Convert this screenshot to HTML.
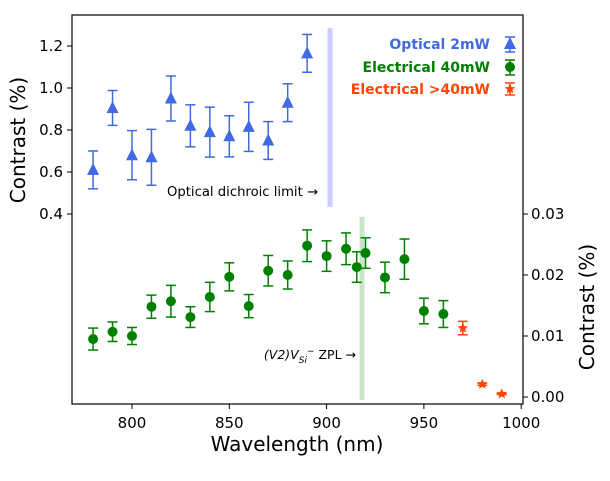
<!DOCTYPE html>
<html><head><meta charset="utf-8"><style>
body{margin:0;background:#fff}
svg text{font-family:"DejaVu Sans","Liberation Sans",sans-serif}
</style></head><body>
<svg id="c" width="610" height="476" xmlns="http://www.w3.org/2000/svg">
<rect x="72" y="15" width="451" height="389" fill="#fff" stroke="#000" stroke-width="1.2"/>
<rect x="327.5" y="28" width="5" height="179" fill="#ccccff"/>
<rect x="359.5" y="217" width="5" height="183" fill="#c8e6c8"/>
<text x="318" y="196" font-size="13.2" text-anchor="end" fill="#000">Optical dichroic limit →</text>
<text x="356" y="359" font-size="12.5" text-anchor="end" fill="#000"><tspan font-style="italic">(V2)V</tspan><tspan font-style="italic" font-size="9" dy="4">Si</tspan><tspan font-size="9" dy="-9">−</tspan><tspan dy="5"> ZPL →</tspan></text>
<g id="axes"></g>
<g id="marks"></g>
<g>
<text x="490" y="49" font-size="14" font-weight="bold" fill="#4169e1" text-anchor="end">Optical 2mW</text>
<text x="490" y="72" font-size="14" font-weight="bold" fill="#008000" text-anchor="end">Electrical 40mW</text>
<text x="490" y="94" font-size="14" font-weight="bold" fill="#ff4500" text-anchor="end">Electrical &gt;40mW</text>
</g>
<text x="297" y="451" font-size="20" text-anchor="middle">Wavelength (nm)</text>
<text transform="translate(25,140) rotate(-90)" font-size="20" text-anchor="middle">Contrast (%)</text>
<text transform="translate(594,307) rotate(-90)" font-size="20" text-anchor="middle">Contrast (%)</text>
</svg>
<script>
const optX=[780,790,800,810,820,830,840,850,860,870,880,890];
const optY=[0.61,0.905,0.68,0.67,0.95,0.82,0.79,0.77,0.815,0.75,0.93,1.165];
const optE=[0.09,0.083,0.117,0.133,0.107,0.1,0.119,0.098,0.117,0.09,0.09,0.09];
const elX=[780,790,800,810,820,830,840,850,860,870,880,890,900,910,915.5,920,930,940,950,960];
const elY=[0.0095,0.0107,0.0100,0.0148,0.0157,0.0131,0.0164,0.0197,0.0149,0.0207,0.0200,0.0248,0.0231,0.0243,0.0213,0.0236,0.0196,0.0226,0.0141,0.0136];
const elE=[0.0018,0.0016,0.0014,0.0019,0.0026,0.0017,0.0024,0.0023,0.0019,0.0025,0.0023,0.0026,0.0025,0.0026,0.0025,0.0025,0.0025,0.0033,0.0021,0.0022];
const hiX=[970,980,990];
const hiY=[0.0113,0.0021,0.0005];
const hiE=[0.0011,0.0002,0.0001];
const xTicks=[800,850,900,950,1000];
const yLTicks=[0.4,0.6,0.8,1.0,1.2];
const yRTicks=[0,0.01,0.02,0.03];
const X=v=>132+(v-800)*1.946;
const YL=v=>214-(v-0.4)*210;
const YR=v=>397-v*6100;
const NS='http://www.w3.org/2000/svg';
function mk(t,a,p){const e=document.createElementNS(NS,t);for(const k in a)e.setAttribute(k,a[k]);p.appendChild(e);return e;}
const ax=document.getElementById('axes'),mg=document.getElementById('marks');
xTicks.forEach(t=>{const g=mk('g',{},ax);


mk('line',{x1:X(t),x2:X(t),y1:404,y2:409,stroke:'#000'},g);
const tx=mk('text',{x:X(t),y:428,'font-size':15,'text-anchor':'middle'},g);tx.textContent=t;});
yLTicks.forEach(t=>{const g=mk('g',{},ax);


mk('line',{x1:67,x2:72,y1:YL(t),y2:YL(t),stroke:'#000'},g);
const tx=mk('text',{x:63,y:YL(t)+5,'font-size':15,'text-anchor':'end'},g);tx.textContent=t.toFixed(1);});
yRTicks.forEach(t=>{const g=mk('g',{},ax);


mk('line',{x1:523,x2:528,y1:YR(t),y2:YR(t),stroke:'#000'},g);
const tx=mk('text',{x:531,y:YR(t)+5,'font-size':15},g);tx.textContent=t.toFixed(2);});
function eb(x,y1,y2,c){mk('line',{x1:x,x2:x,y1:y1,y2:y2,stroke:c,'stroke-width':1.5},mg);
mk('line',{x1:x-5,x2:x+5,y1:y1,y2:y1,stroke:c,'stroke-width':1.5},mg);
mk('line',{x1:x-5,x2:x+5,y1:y2,y2:y2,stroke:c,'stroke-width':1.5},mg);}
function tri(x,y,c){return mk('polygon',{points:`${x},${y-7} ${x-6},${y+5} ${x+6},${y+5}`,fill:c},mg);}
function star(x,y,c,r){let p=[];for(let i=0;i<10;i++){const a=-Math.PI/2+i*Math.PI/5,rr=i%2?r*0.45:r;p.push((x+rr*Math.cos(a)).toFixed(1)+','+(y+rr*Math.sin(a)).toFixed(1));}return mk('polygon',{points:p.join(' '),fill:c},mg);}
optX.forEach((v,i)=>{const x=X(v);eb(x,YL(optY[i]+optE[i]),YL(optY[i]-optE[i]),'#4169e1');
const m=tri(x,YL(optY[i]),'#4169e1');

});
elX.forEach((v,i)=>{const x=X(v);eb(x,YR(elY[i]+elE[i]),YR(elY[i]-elE[i]),'#008000');
const m=mk('circle',{cx:x,cy:YR(elY[i]),r:5,fill:'#008000'},mg);

});
hiX.forEach((v,i)=>{const x=X(v);eb(x,YR(hiY[i]+hiE[i]),YR(hiY[i]-hiE[i]),'#ff4500');
const m=star(x,YR(hiY[i]),'#ff4500',5.5);

});
eb(510,37,52,'#4169e1');tri(510,44,'#4169e1');
eb(510,60,75,'#008000');mk('circle',{cx:510,cy:67,r:5,fill:'#008000'},mg);
eb(510,83,95,'#ff4500');star(510,89,'#ff4500',5.5);
</script>
</body></html>
